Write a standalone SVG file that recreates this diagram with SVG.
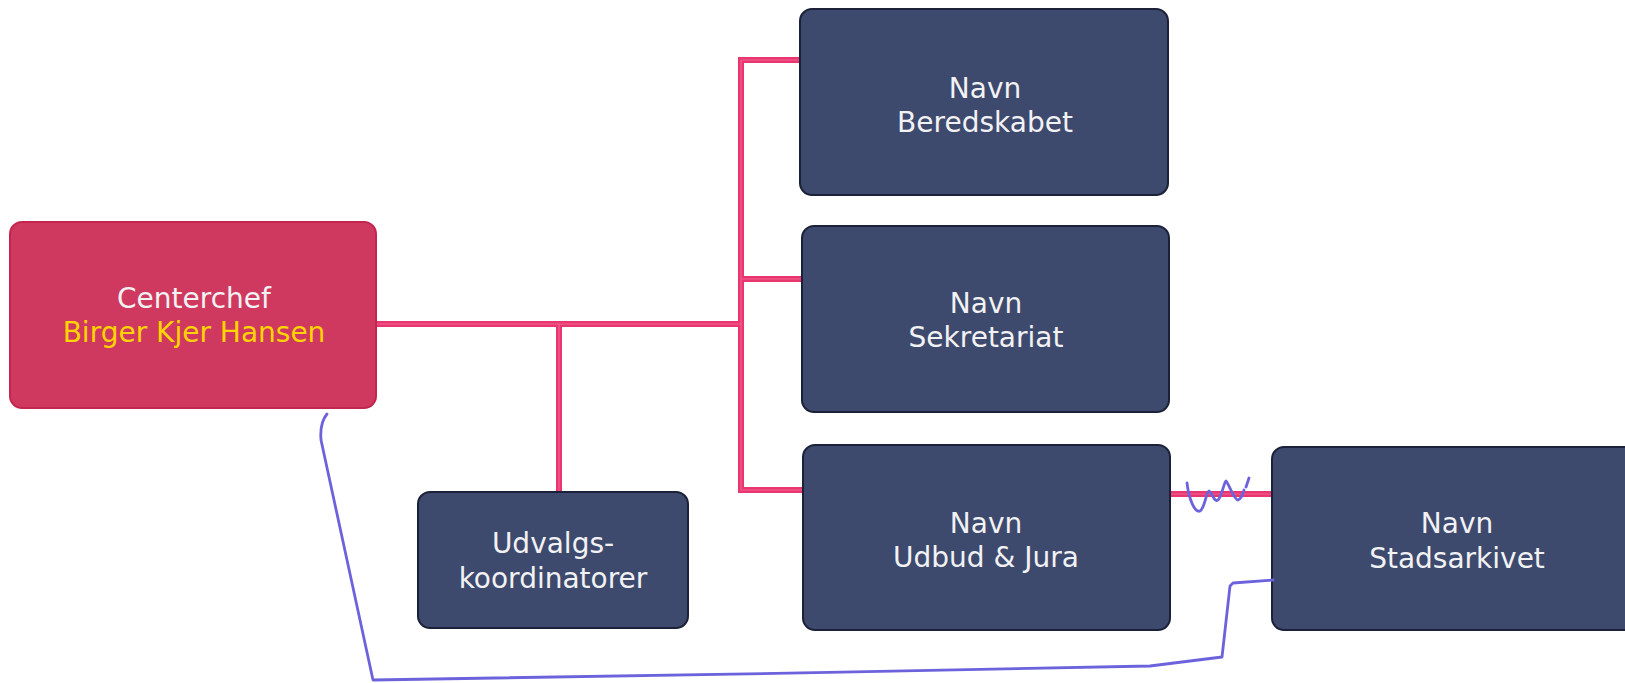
<svg xmlns="http://www.w3.org/2000/svg" width="1625" height="683" viewBox="0 0 1625 683">
  <style>
    .box { fill: #3d4a6d; stroke: #1b2138; stroke-width: 2; }
    .boss { fill: #d0395f; stroke: #c2264f; stroke-width: 2; }
    .lbl { font-family: "DejaVu Sans", Verdana, sans-serif; font-size: 28px; text-anchor: middle; fill: #f2f2f4; }
    .yel { fill: #ffd400; }
    .conn { fill: none; stroke: #ea3670; stroke-width: 6; stroke-linejoin: miter; }
    .conn-hi { fill: none; stroke: #f0628f; stroke-width: 1.2; }
    .pen { fill: none; stroke: #6c63dc; stroke-width: 2.8; stroke-linecap: round; stroke-linejoin: round; }
  </style>
  <rect width="1625" height="683" fill="#ffffff"/>

  <g id="connectors">
    <path class="conn" d="M376,324 H742 M559,324 V492 M800,60 H741 V490 H803 M741,279 H802 M1170,494 H1272"/>
    <path class="conn-hi" d="M376,324 H742 M559,324 V492 M800,60 H741 V490 H803 M741,279 H802 M1170,494 H1272"/>
  </g>

  <g id="centerchef">
    <rect class="boss" x="10" y="222" width="366" height="186" rx="12"/>
    <text class="lbl" x="194" y="308">Centerchef</text>
    <text class="lbl yel" x="194" y="342">Birger Kjer Hansen</text>
  </g>

  <g id="beredskabet">
    <rect class="box" x="800" y="9" width="368" height="186" rx="12"/>
    <text class="lbl" x="985" y="98">Navn</text>
    <text class="lbl" x="985" y="132">Beredskabet</text>
  </g>

  <g id="sekretariat">
    <rect class="box" x="802" y="226" width="367" height="186" rx="12"/>
    <text class="lbl" x="986" y="313">Navn</text>
    <text class="lbl" x="986" y="347">Sekretariat</text>
  </g>

  <g id="udbud-jura">
    <rect class="box" x="803" y="445" width="367" height="185" rx="12"/>
    <text class="lbl" x="986" y="533">Navn</text>
    <text class="lbl" x="986" y="567">Udbud &amp; Jura</text>
  </g>

  <g id="stadsarkivet">
    <rect class="box" x="1272" y="447" width="370" height="183" rx="12"/>
    <text class="lbl" x="1457" y="533">Navn</text>
    <text class="lbl" x="1457" y="568">Stadsarkivet</text>
  </g>

  <g id="udvalgskoordinatorer">
    <rect class="box" x="418" y="492" width="270" height="136" rx="12"/>
    <text class="lbl" x="553" y="553">Udvalgs-</text>
    <text class="lbl" x="553" y="588">koordinatorer</text>
  </g>

  <g id="pen-marks">
    <path class="pen" d="M327,414 C322,420 320,428 321,440 L373,680 C600,676 900,672 1150,666 L1222,657 C1225,630 1228,605 1230,586 L1233,583 L1273,580"/>
    <path class="pen" d="M1187,483 C1189,500 1195,513 1200,511 C1205,508 1206,492 1209,491 C1212,492 1214,503 1218,500 C1222,496 1224,482 1226,481 C1229,484 1234,500 1238,500 C1241,499 1243,494 1244,490 M1246,487 L1249,478"/>
  </g>
</svg>
